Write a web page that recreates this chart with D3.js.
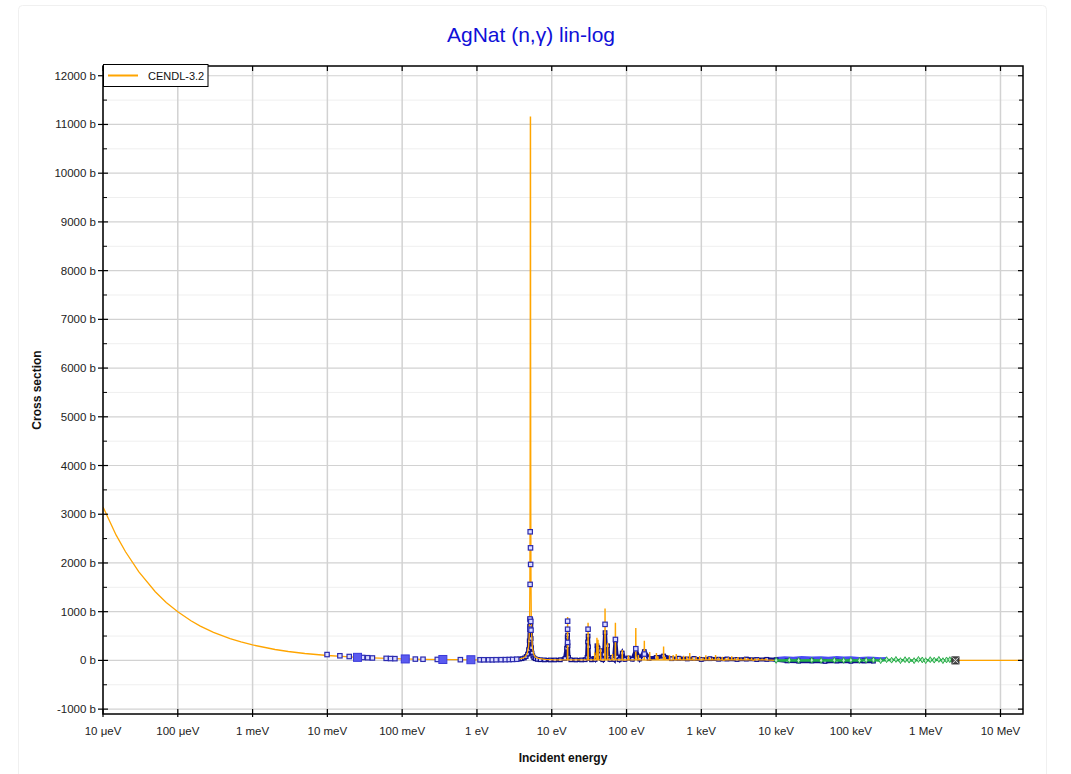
<!DOCTYPE html>
<html><head><meta charset="utf-8">
<script src="https://cdn.jsdelivr.net/npm/d3@7"></script>
<style>
body{margin:0;background:#fff;font-family:"Liberation Sans",Arial,sans-serif;}
svg text{font-family:"Liberation Sans",Arial,sans-serif;}
</style></head><body>
<svg id="c" width="1071" height="774"></svg>
<script>
// ---------- DATA ----------
const chartTitle = "AgNat (n,γ) lin-log";
const xTickValues = [1e-5,1e-4,1e-3,1e-2,1e-1,1,10,100,1e3,1e4,1e5,1e6,1e7];
const xTickLabels = ["10 μeV","100 μeV","1 meV","10 meV","100 meV","1 eV","10 eV","100 eV","1 keV","10 keV","100 keV","1 MeV","10 MeV"];
const yTickValues = [-1000,0,1000,2000,3000,4000,5000,6000,7000,8000,9000,10000,11000,12000];
const yTickLabels = yTickValues.map(v => v + " b");

// CENDL-3.2 smooth evaluated curve (E in eV, xs in b)
const cendlE  = [1e-5,1.5e-5,2e-5,3e-5,5e-5,7e-5,1e-4,1.5e-4,2e-4,3e-4,5e-4,7e-4,1e-3,2e-3,3e-3,5e-3,1e-2,2e-2,2.53e-2,5e-2,0.1,0.2,0.5,1,1.5,2,2.5,3,3.5,4,4.4,4.7,4.9,5.0,5.06,5.1,5.13,5.16,5.175,5.19,5.205,5.22,5.25,5.28,5.33,5.4,5.5,5.7,6,6.6,8,11,14,20,28,50,90,200,400,800,2000,5000,1e4,3e4,1e5,3e5,1e6,3e6,1e7,2e7];
const cendlXS = [3150,2570,2230,1820,1410,1190,1000,815,705,577,447,378,317,224,183,142,101,71,63,45,32,23,15,12,11,12,14,18,25,40,70,140,280,500,900,1600,3000,6500,11150,11150,11150,6500,3000,1600,900,500,280,140,70,40,20,12,10,9,9,8,8,7,6,5,4,3,2,1,0.6,0.3,0.15,0.08,0.05,0.04];
// narrow resonances of the evaluation (energy eV, peak b)
const resE    = [16.3,30.6,37.6,40.2,41.6,45.0,51.6,55.8,64.8,71.0,87.6,106,133,144,173,204,251,263,313,330,376,420,462,520,580,640,700,760,850,950,1050,1150,1280,1400,1550,1700,1900,2100,2300,2550,2800,3100,3400,3800,4200,4700,5200,5800,6500,7300];
const resPeak = [880,760,150,450,410,230,1050,350,120,760,200,90,650,100,390,160,140,70,270,60,90,100,120,60,80,70,140,50,60,75,45,90,55,40,100,45,60,35,50,70,40,55,30,45,35,40,30,35,25,30];

// navy experimental data (dense)
const navyE  = [1.1,1.3,1.6,1.9,2.2,2.5,2.8,3.1,3.4,3.7,4.0,4.3,4.55,4.75,4.9,5.0,5.07,5.11,5.14,5.17,5.2,5.23,5.26,5.3,5.36,5.45,5.58,5.75,6.0,6.4,7,8,9.5,11,13,15,15.8,16.1,16.3,16.5,16.8,18,21,25,28,29.6,30.2,30.6,31,31.6,34,37,38,39.5,40.2,41,41.6,42.5,44,45,46,48,50,51.6,53,55,55.8,57,60,64,68,71,74,80,87.6,95,106,120,133,150,173,200,250,313,400,500,650,800,1000,1300,1700,2200,3000,4000,5500,7500,1e4,1.4e4,2e4,3e4,4.5e4,6.5e4,1e5,1.5e5,2e5];
const navyXS = [13,13,13,14,15,16,18,20,23,28,35,50,80,130,220,400,700,850,830,820,810,840,700,450,260,150,90,55,35,22,14,10,9,9,12,40,250,480,520,300,60,12,9,10,14,60,380,500,280,40,12,40,20,80,300,260,250,60,120,200,40,15,120,570,280,80,300,60,20,60,20,400,70,15,150,20,50,25,200,30,180,40,60,90,35,45,30,40,20,35,25,30,20,28,18,22,15,-10,-15,-10,-20,-12,-18,-10,-15];

// blue outlined square markers
const blueE  = [0.0099,0.0147,0.0196,0.0296,0.0346,0.04,0.0611,0.07,0.08,0.15,0.19,0.295,0.6,1.1,1.23,1.43,1.6,1.8,2.1,2.4,2.7,3.0,3.4,5.15,5.2,5.22,5.14,5.12,5.25,5.1,5.28,16.3,16.3,16.3,30.6,51.6,71,133,173];
const blueXS = [120,95,80,60,55,50,42,38,36,27,24,20,15,13,13,13,13,14,15,16,18,20,24,2640,2310,1970,1560,850,800,640,620,805,640,370,640,740,430,240,130];
// large filled blue squares
const bigE  = [0.0253,0.11,0.35,0.83];
const bigXS = [63,30,19,14];

// lighter blue band data (keV region)
const lblueE  = [1e4,1.3e4,1.7e4,2.2e4,3e4,4e4,5e4,6.5e4,8e4,1e5,1.3e5,1.7e5,2e5,2.5e5,3e5];
const lblueXS = [30,45,35,50,40,45,35,50,40,45,30,40,35,25,30];

// green data (keV-MeV region)
const greenE  = [1e4,1.5e4,2e4,3e4,4e4,6e4,8e4,1e5,1.3e5,1.6e5,2e5,2.5e5,3e5,3.5e5,4e5,4.6e5,5.3e5,6e5,7e5,8e5,9e5,1e6,1.15e6,1.3e6,1.5e6,1.7e6,1.9e6,2.1e6,2.3e6];
const greenXS = [0,5,0,5,0,5,0,5,0,5,10,-5,15,5,20,-5,15,5,-5,20,10,-5,15,5,20,-5,10,15,5];
// black marker
const blackE  = [2.5e6];
const blackXS = [0];

// ---------- LAYOUT ----------
const L=103, R=1023, T=66, B=714;
const svg = d3.select("#c");
const x = d3.scaleLog().domain([1e-5, 2e7]).range([L, R]);
const y = d3.scaleLinear().domain([-1100, 12200]).range([B, T]);

// outer border
svg.append("rect").attr("x",18.5).attr("y",5.5).attr("width",1028).attr("height",800)
  .attr("rx",4).attr("fill","none").attr("stroke","#f0f0f0");

// title
svg.append("text").attr("x",531).attr("y",42).attr("text-anchor","middle")
  .attr("font-size",21).attr("fill","#1010d8").text(chartTitle);

// grid
const g = svg.append("g");
const minorY = d3.range(-500, 12200, 1000);
g.selectAll(".gm").data(minorY).join("line")
  .attr("x1",L).attr("x2",R).attr("y1",d=>y(d)).attr("y2",d=>y(d))
  .attr("stroke","#efefef").attr("stroke-width",1);
g.selectAll(".gy").data(yTickValues).join("line")
  .attr("x1",L).attr("x2",R).attr("y1",d=>y(d)).attr("y2",d=>y(d))
  .attr("stroke","#d2d2d2").attr("stroke-width",1.2);
g.selectAll(".gx").data(xTickValues).join("line")
  .attr("y1",T).attr("y2",B).attr("x1",d=>x(d)).attr("x2",d=>x(d))
  .attr("stroke","#d2d2d2").attr("stroke-width",1.5);

// clip
svg.append("clipPath").attr("id","clip").append("rect").attr("x",L).attr("y",T).attr("width",R-L).attr("height",B-T);
const plot = svg.append("g").attr("clip-path","url(#clip)");

// build series
const cendl = cendlE.map((e,i)=>[e,cendlXS[i]]);
resE.forEach((e,i)=>{
  const base = 10;
  cendl.push([e*0.992, base],[e*0.998, resPeak[i]],[e*1.002, resPeak[i]],[e*1.008, base]);
});
cendl.sort((a,b)=>a[0]-b[0]);
const line = d3.line().x(d=>x(d[0])).y(d=>y(d[1]));

// navy band
const navy = navyE.map((e,i)=>[e,navyXS[i]]);
plot.append("path").datum(navy).attr("d",line).attr("fill","none")
  .attr("stroke","#10108a").attr("stroke-width",4);
// light blue band
const lblue = lblueE.map((e,i)=>[e,lblueXS[i]]);
plot.append("path").datum(lblue).attr("d",line).attr("fill","none")
  .attr("stroke","#4b4bf5").attr("stroke-width",4);
plot.selectAll(".nv").data(navy).join("rect")
  .attr("x",d=>x(d[0])-1.8).attr("y",d=>y(d[1])-1.8).attr("width",3.6).attr("height",3.6)
  .attr("fill","#c8c8ff").attr("stroke","#10108a").attr("stroke-width",1.2);

// orange evaluation
plot.append("path").datum(cendl).attr("d",line).attr("fill","none")
  .attr("stroke","#ffa500").attr("stroke-width",1.3);

// green band + markers
const green = greenE.map((e,i)=>[e,greenXS[i]]);
plot.append("path").datum(green).attr("d",line).attr("fill","none")
  .attr("stroke","#22b04a").attr("stroke-width",2.5);
plot.selectAll(".gr").data(green).join("path")
  .attr("transform",d=>`translate(${x(d[0])},${y(d[1])})`)
  .attr("d",d3.symbol(d3.symbolDiamond,10)).attr("fill","#bfeec9").attr("stroke","#1fa640").attr("stroke-width",0.9);

// blue markers
const blue = blueE.map((e,i)=>[e,blueXS[i]]);
plot.selectAll(".bl").data(blue).join("rect")
  .attr("x",d=>x(d[0])-2.2).attr("y",d=>y(d[1])-2.2).attr("width",4.4).attr("height",4.4)
  .attr("fill","#dcdcff").attr("stroke","#2b2bb0").attr("stroke-width",1.2);
const big = bigE.map((e,i)=>[e,bigXS[i]]);
plot.selectAll(".bg").data(big).join("rect")
  .attr("x",d=>x(d[0])-4).attr("y",d=>y(d[1])-4).attr("width",8).attr("height",8)
  .attr("fill","#5a5af0").attr("stroke","#3a3ad8").attr("stroke-width",1);

// black marker
const black = blackE.map((e,i)=>[e,blackXS[i]]);
const bk = plot.selectAll(".bk").data(black).join("g").attr("transform",d=>`translate(${x(d[0])},${y(d[1])})`);
bk.append("rect").attr("x",-3.5).attr("y",-3.5).attr("width",7).attr("height",7).attr("fill","#555").attr("stroke","#222");
bk.append("path").attr("d","M-3,-3L3,3M-3,3L3,-3").attr("stroke","#ddd").attr("stroke-width",1);

// frame
svg.append("rect").attr("x",L).attr("y",T).attr("width",R-L).attr("height",B-T)
  .attr("fill","none").attr("stroke","#000").attr("stroke-width",1.5);

// ticks
const ax = svg.append("g").attr("stroke","#000");
ax.selectAll(".yt").data(yTickValues).join("line")
  .attr("x1",L-5).attr("x2",L+5).attr("y1",d=>y(d)).attr("y2",d=>y(d)).attr("stroke-width",1.2);
ax.selectAll(".ytr").data(yTickValues).join("line")
  .attr("x1",R-5).attr("x2",R).attr("y1",d=>y(d)).attr("y2",d=>y(d)).attr("stroke-width",1.2);
ax.selectAll(".ym").data(minorY).join("line")
  .attr("x1",L).attr("x2",L+4).attr("y1",d=>y(d)).attr("y2",d=>y(d)).attr("stroke-width",1);
ax.selectAll(".ymr").data(minorY).join("line")
  .attr("x1",R-4).attr("x2",R).attr("y1",d=>y(d)).attr("y2",d=>y(d)).attr("stroke-width",1);
ax.selectAll(".xt").data(xTickValues).join("line")
  .attr("x1",d=>x(d)).attr("x2",d=>x(d)).attr("y1",B-5).attr("y2",B+3).attr("stroke-width",1.2);
ax.selectAll(".xtt").data(xTickValues).join("line")
  .attr("x1",d=>x(d)).attr("x2",d=>x(d)).attr("y1",T).attr("y2",T+5).attr("stroke-width",1.2);

svg.selectAll(".yl").data(yTickValues).join("text")
  .attr("x",L-7).attr("y",d=>y(d)+4).attr("text-anchor","end").attr("font-size",11.5).attr("fill","#222")
  .text((d,i)=>yTickLabels[i]);
svg.selectAll(".xl").data(xTickValues).join("text")
  .attr("x",d=>x(d)).attr("y",B+21).attr("text-anchor","middle").attr("font-size",11.5).attr("fill","#222")
  .text((d,i)=>xTickLabels[i]);

// axis titles
svg.append("text").attr("x",(L+R)/2).attr("y",762).attr("text-anchor","middle")
  .attr("font-size",12).attr("font-weight","bold").attr("fill","#111").text("Incident energy");
svg.append("text").attr("transform",`translate(41,${(T+B)/2}) rotate(-90)`).attr("text-anchor","middle")
  .attr("font-size",12).attr("font-weight","bold").attr("fill","#111").text("Cross section");

// legend
const lg = svg.append("g");
lg.append("rect").attr("x",103.5).attr("y",64.5).attr("width",104.5).attr("height",22)
  .attr("fill","#fff").attr("stroke","#000").attr("stroke-width",1);
lg.append("line").attr("x1",108).attr("x2",138).attr("y1",75.5).attr("y2",75.5)
  .attr("stroke","#ffa500").attr("stroke-width",2);
lg.append("text").attr("x",148).attr("y",79.5).attr("font-size",11).attr("fill","#111").text("CENDL-3.2");
</script>
</body></html>
